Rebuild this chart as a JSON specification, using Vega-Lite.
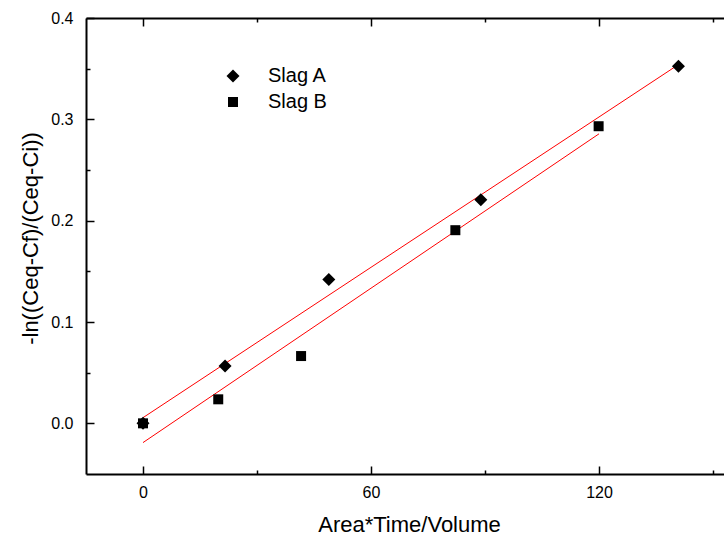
{
  "$schema": "https://vega.github.io/schema/vega-lite/v6.json",
  "width": 646,
  "height": 456,
  "autosize": "none",
  "padding": {"left": 86, "top": 18, "right": 0, "bottom": 62},
  "background": "white",
  "config": {
    "view": {"stroke": null},
    "font": "Liberation Sans",
    "axis": {
      "domainColor": "black",
      "domainWidth": 2,
      "tickColor": "black",
      "tickWidth": 1.5,
      "grid": false,
      "labelColor": "black",
      "titleColor": "black",
      "labelFont": "Liberation Sans",
      "titleFont": "Liberation Sans",
      "labelFontSize": 16,
      "titleFontSize": 22,
      "titleFontWeight": "normal",
      "labelFlush": false,
      "labelOverlap": false
    }
  },
  "datasets": {
    "points": [
      {"series": "Slag A", "x": 0, "y": 0},
      {"series": "Slag A", "x": 21.6, "y": 0.0565},
      {"series": "Slag A", "x": 48.9, "y": 0.142},
      {"series": "Slag A", "x": 88.9, "y": 0.2206},
      {"series": "Slag A", "x": 140.9, "y": 0.3524},
      {"series": "Slag B", "x": 0, "y": 0},
      {"series": "Slag B", "x": 19.8, "y": 0.0237},
      {"series": "Slag B", "x": 41.6, "y": 0.0664},
      {"series": "Slag B", "x": 82.2, "y": 0.1906},
      {"series": "Slag B", "x": 119.9, "y": 0.2932}
    ],
    "fits": [
      {"series": "Slag A", "x": 0, "y": 0.0056},
      {"series": "Slag A", "x": 140.9, "y": 0.354},
      {"series": "Slag B", "x": 0, "y": -0.019},
      {"series": "Slag B", "x": 120, "y": 0.2857}
    ]
  },
  "layer": [
    {
      "data": {"name": "fits"},
      "mark": {"type": "line", "color": "#ff0000", "strokeWidth": 1},
      "encoding": {
        "x": {
          "field": "x", "type": "quantitative",
          "scale": {"domain": [-15, 155], "nice": false, "zero": false},
          "axis": {
            "orient": "top", "title": null, "labels": false,
            "values": [0, 30, 60, 90, 120, 150],
            "tickSize": {"condition": {"test": "datum.value % 60 === 0", "value": -8}, "value": -4}
          }
        },
        "y": {
          "field": "y", "type": "quantitative",
          "scale": {"domain": [-0.05, 0.4], "nice": false, "zero": false},
          "axis": {
            "orient": "right", "title": null, "labels": false,
            "values": [0, 0.05, 0.1, 0.15, 0.2, 0.25, 0.3, 0.35, 0.4],
            "tickSize": {"condition": {"test": "abs(datum.value*10 - round(datum.value*10)) < 0.001", "value": -8}, "value": -4}
          }
        },
        "detail": {"field": "series"}
      }
    },
    {
      "data": {"name": "points"},
      "mark": {"type": "point", "filled": true, "opacity": 1, "color": "black", "strokeWidth": 0},
      "encoding": {
        "x": {
          "field": "x", "type": "quantitative",
          "axis": {
            "orient": "bottom", "title": "Area*Time/Volume",
            "values": [0, 30, 60, 90, 120, 150],
            "labelExpr": "datum.value % 60 === 0 ? format(datum.value, 'd') : ''",
            "tickSize": {"condition": {"test": "datum.value % 60 === 0", "value": -8}, "value": -4},
            "labelPadding": 18,
            "titleX": 323, "titleY": 57, "titleAlign": "center", "titleBaseline": "alphabetic"
          }
        },
        "y": {
          "field": "y", "type": "quantitative",
          "axis": {
            "orient": "left", "title": "-ln((Ceq-Cf)/(Ceq-Ci))",
            "values": [0, 0.05, 0.1, 0.15, 0.2, 0.25, 0.3, 0.35, 0.4],
            "labelExpr": "abs(datum.value*10 - round(datum.value*10)) < 0.001 ? format(datum.value, '.1f') : ''",
            "tickSize": {"condition": {"test": "abs(datum.value*10 - round(datum.value*10)) < 0.001", "value": -8}, "value": -4},
            "labelPadding": 21,
            "titleX": -56, "titleY": 220, "titleAngle": 270, "titleAlign": "center", "titleBaseline": "middle"
          }
        },
        "shape": {
          "field": "series", "type": "nominal",
          "scale": {"domain": ["Slag A", "Slag B"], "range": ["diamond", "square"]},
          "legend": {
            "orient": "none", "legendX": 137, "legendY": 48, "title": null,
            "labelFontSize": 20, "labelFont": "Liberation Sans", "labelColor": "black",
            "labelOffset": 25, "rowPadding": 6,
            "symbolFillColor": "black", "symbolStrokeWidth": 0
          }
        },
        "size": {
          "field": "series", "type": "nominal",
          "scale": {"domain": ["Slag A", "Slag B"], "range": [169, 100]},
          "legend": {
            "orient": "none", "legendX": 137, "legendY": 48, "title": null,
            "labelFontSize": 20, "labelFont": "Liberation Sans", "labelColor": "black",
            "labelOffset": 25, "rowPadding": 6,
            "symbolFillColor": "black", "symbolStrokeWidth": 0
          }
        }
      }
    }
  ],
  "resolve": {"axis": {"x": "independent", "y": "independent"}}
}
